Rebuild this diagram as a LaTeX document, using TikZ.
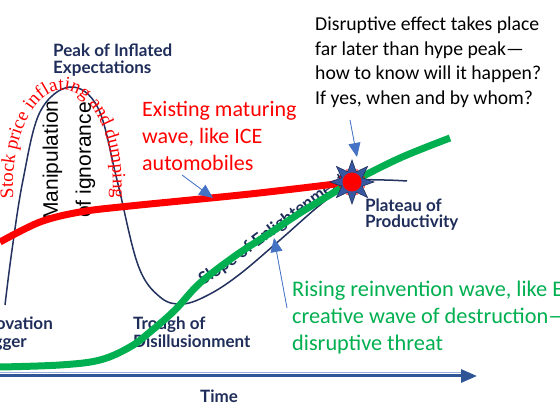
\documentclass[tikz,border=0pt]{standalone}
\usepackage{fontspec}
\setmainfont{Carlito}
\newfontfamily\gfont{Lato}
\newfontfamily\stockserif{Liberation Serif}
\newfontfamily\afont{Liberation Sans}
\usetikzlibrary{arrows.meta,shapes.geometric,decorations.text}
\definecolor{navy}{RGB}{31,45,90}
\definecolor{curvenavy}{RGB}{35,50,95}
\definecolor{axisblue}{RGB}{47,85,151}
\definecolor{axislight}{RGB}{150,175,220}
\definecolor{wavered}{RGB}{255,0,0}
\definecolor{wavegreen}{RGB}{0,176,80}
\definecolor{arrowblue}{RGB}{68,114,196}
\definecolor{starblue}{RGB}{55,88,160}
\newcommand\stockfnt{\stockserif\fontsize{19}{19}\selectfont}
\newcommand\slopefnt{\gfont\bfseries\fontsize{17}{17}\selectfont}
\tikzset{
  phase/.style={font=\gfont\bfseries\fontsize{17}{17}\selectfont, text=navy, inner sep=0, anchor=base west},
  note/.style={inner sep=0, anchor=base west},
  redtxt/.style={note, font=\fontsize{22}{27}\selectfont, text=wavered},
  greentxt/.style={note, font=\fontsize{22.3}{27}\selectfont, text=wavegreen},
  blacktxt/.style={note, font=\fontsize{19.7}{24.5}\selectfont, text=black},
  pointer/.style={draw=arrowblue, line width=0.8pt, -{Triangle[length=14pt,width=12pt]}, fill=arrowblue},
  wave/.style={line width=7pt},
  hype/.style={draw=curvenavy, line width=1.5pt},
}
\begin{document}
\begin{tikzpicture}[x=1pt,y=1pt]
\fill[white] (0,0) rectangle (560,420);
\useasboundingbox (0,0) rectangle (560,420);

% time axis
\coordinate (ax0) at (0,44);
\coordinate (ax1) at (477,44);
\coordinate (axl0) at (0,47.8);
\coordinate (axl1) at (462,47.8);
\draw[axislight, line width=0.8pt] (axl0) -- (axl1);
\draw[axisblue, line width=3pt, -{Triangle[length=16pt,width=13pt]}] (ax0) -- (ax1);

% hype cycle curve
\draw[hype] plot[smooth, tension=0.6] coordinates {
 (5,115) (12,170) (23,240) (40,308) (70,333) (98,312) (117,240) (138,155)
 (160,123) (183,116) (210,126) (240,146) (280,180) (320,215) (352,238)
 (380,240) (407,239)};

% slope label along the curve
\coordinate (sl0) at (198,131);
\coordinate (sl1) at (352,241);
\path[font=\slopefnt, decorate, decoration={text along path, text align=center, text color=navy,
  text={|\slopefnt|Slope of Enlightenment}}]
  (sl0) .. controls (245,160) and (300,207) .. (sl1);

% stock price text along an elliptic arc
\path[font=\stockfnt, decorate, decoration={text along path, text align=center, text color=wavered,
  text={|\stockfnt|Stock price inflating and dumping}}]
  (63,235) ++(189:50 and 95) arc[start angle=189, end angle=-9, x radius=50, y radius=95];

% manipulation text
\node[rotate=90, align=center, font=\afont\fontsize{21}{33}\selectfont, inner sep=0] (manip) at (69,260) {Manipulation\\of ignorance};

% phase labels
\node[phase] (peak1) at (53,363) {Peak of Inflated};
\node[phase] (peak2) at (53,346) {Expectations};
\node[phase] (tr1) at (133,90) {Trough of};
\node[phase] (tr2) at (133,72) {Disillusionment};
\node[phase] (pl1) at (365,208) {Plateau of};
\node[phase] (pl2) at (365,192) {Productivity};
\node[phase, anchor=base east] (in1) at (53,90) {Innovation};
\node[phase, anchor=base east] (in2) at (27,72) {Trigger};
\node[phase] (time) at (200,17) {Time};

% waves
\draw[wave, wavered] plot[smooth, tension=0.55] coordinates {
 (0,178) (40,198) (80,208) (130,214) (250,226) (352,238)};
\draw[wave, wavegreen] plot[smooth, tension=0.6] coordinates {
 (0,53) (60,55) (100,60) (130,73) (150,88) (175,110) (200,137) (235,164)
 (267,185) (300,207) (333,227) (352,238) (400,262) (450,282)};

% burst
\node[star, star points=8, star point ratio=2, minimum size=44pt, inner sep=0,
  fill=starblue, draw=navy, line width=0.6pt] (burst) at (352,238) {};
\foreach \a in {22.5,67.5,...,360} \fill[wavered] (burst.center) ++(\a:13) circle (0.9);
\node[circle, fill=wavered, minimum size=19pt, inner sep=0] (dot) at (352,238) {};

% texts
\node[redtxt] (r1) at (142,303) {Existing maturing};
\node[redtxt] (r2) at (142,276) {wave, like ICE};
\node[redtxt] (r3) at (142,249) {automobiles};

\node[blacktxt] (b1) at (315,389) {Disruptive effect takes place};
\node[blacktxt] (b2) at (315,364.5) {far later than hype peak---};
\node[blacktxt] (b3) at (315,340) {how to know will it happen?};
\node[blacktxt] (b4) at (315,315.5) {If yes, when and by whom?};

\node[greentxt] (g1) at (292,123) {Rising reinvention wave, like EV};
\node[greentxt] (g2) at (292,96) {creative wave of destruction---};
\node[greentxt] (g3) at (292,69) {disruptive threat};

% pointers
\coordinate (p1s) at (182,245);
\coordinate (p1e) at (213,222);
\coordinate (p2s) at (350,300);
\coordinate (p2e) at (357,263);
\coordinate (p3s) at (287,112);
\coordinate (p3e) at (274,182);
\draw[pointer] (p1s) -- (p1e);
\draw[pointer] (p2s) -- (p2e);
\draw[pointer] (p3s) -- (p3e);
\end{tikzpicture}
\end{document}
